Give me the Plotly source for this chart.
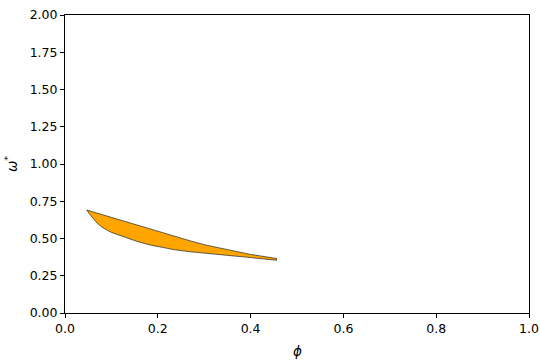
import plotly.graph_objects as go

phi_upper = [0.047, 0.08, 0.12, 0.15, 0.183, 0.21, 0.237, 0.27, 0.302, 0.33, 0.356, 0.40, 0.456]
omega_upper = [0.691, 0.660, 0.622, 0.594, 0.567, 0.540, 0.513, 0.484, 0.457, 0.438, 0.421, 0.393, 0.366]
phi_lower = [0.047, 0.052, 0.058, 0.064, 0.0696, 0.08, 0.0912, 0.10, 0.1127, 0.127, 0.155, 0.183, 0.21,
             0.237, 0.27, 0.302, 0.35, 0.40, 0.456]
omega_lower = [0.691, 0.668, 0.644, 0.621, 0.602, 0.576, 0.555, 0.541, 0.526, 0.511, 0.481, 0.457, 0.439,
               0.424, 0.411, 0.400, 0.386, 0.372, 0.354]

xs = phi_upper + phi_lower[::-1] + [phi_upper[0]]
ys = omega_upper + omega_lower[::-1] + [omega_upper[0]]

fig = go.Figure()
fig.add_trace(go.Scatter(x=xs, y=ys, mode="lines", fill="toself",
                         fillcolor="#FFA500", line=dict(color="#222222", width=0.7),
                         showlegend=False, hoverinfo="skip"))

axis_common = dict(showline=True, linecolor="black", linewidth=1, mirror=True,
                   ticks="outside", ticklen=4, tickwidth=1, tickcolor="black", showgrid=False,
                   zeroline=False, automargin=False,
                   tickfont=dict(family="DejaVu Sans", size=12.5, color="black"))

fig.update_layout(
    width=540, height=360,
    margin=dict(l=65, r=11, t=15, b=47),
    plot_bgcolor="white", paper_bgcolor="white",
    font=dict(family="DejaVu Sans", size=12.5, color="black"),
    xaxis=dict(range=[0, 1], tickvals=[0, 0.2, 0.4, 0.6, 0.8, 1.0], tickformat=".1f",
               **axis_common),
    yaxis=dict(range=[0, 2], tickvals=[0, 0.25, 0.5, 0.75, 1.0, 1.25, 1.5, 1.75, 2.0], tickformat=".2f",
               **axis_common),
    annotations=[
        dict(text="<i>ϕ</i>", xref="paper", yref="paper", x=0.5, y=0, yshift=-38,
             showarrow=False, font=dict(family="DejaVu Sans", size=13.5, color="black"),
             xanchor="center", yanchor="middle"),
        dict(text="<i>ω</i><sup>*</sup>", xref="paper", yref="paper", x=0, y=0.5, xshift=-54,
             showarrow=False, textangle=-90, font=dict(family="DejaVu Sans", size=13.5, color="black"),
             xanchor="center", yanchor="middle"),
    ],
)

fig.write_html("out.html", config={"displayModeBar": False},
               post_script="document.body.style.margin='0';document.body.style.overflow='hidden';")
